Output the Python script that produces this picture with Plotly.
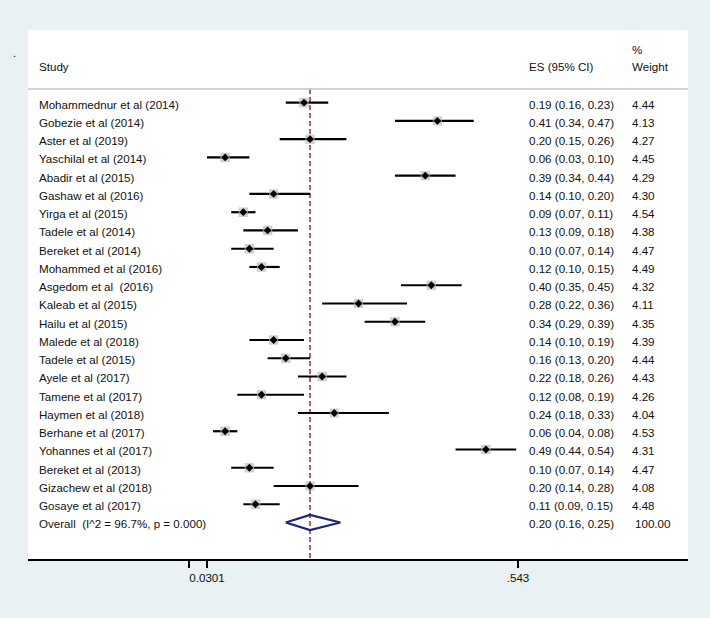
import plotly.graph_objects as go

studies = ["Mohammednur et al (2014)", "Gobezie et al (2014)", "Aster et al (2019)",
           "Yaschilal et al (2014)", "Abadir et al (2015)", "Gashaw et al (2016)",
           "Yirga et al (2015)", "Tadele et al (2014)", "Bereket et al (2014)",
           "Mohammed et al (2016)", "Asgedom et al  (2016)", "Kaleab et al (2015)",
           "Hailu et al (2015)", "Malede et al (2018)", "Tadele et al (2015)",
           "Ayele et al (2017)", "Tamene et al (2017)", "Haymen et al (2018)",
           "Berhane et al (2017)", "Yohannes et al (2017)", "Bereket et al (2013)",
           "Gizachew et al (2018)", "Gosaye et al (2017)"]
es = [0.19, 0.41, 0.20, 0.06, 0.39, 0.14, 0.09, 0.13, 0.10, 0.12, 0.40, 0.28, 0.34,
      0.14, 0.16, 0.22, 0.12, 0.24, 0.06, 0.49, 0.10, 0.20, 0.11]
lo = [0.16, 0.34, 0.15, 0.03, 0.34, 0.10, 0.07, 0.09, 0.07, 0.10, 0.35, 0.22, 0.29,
      0.10, 0.13, 0.18, 0.08, 0.18, 0.04, 0.44, 0.07, 0.14, 0.09]
hi = [0.23, 0.47, 0.26, 0.10, 0.44, 0.20, 0.11, 0.18, 0.14, 0.15, 0.45, 0.36, 0.39,
      0.19, 0.20, 0.26, 0.19, 0.33, 0.08, 0.54, 0.14, 0.28, 0.15]
weights = [4.44, 4.13, 4.27, 4.45, 4.29, 4.30, 4.54, 4.38, 4.47, 4.49, 4.32, 4.11, 4.35,
           4.39, 4.44, 4.43, 4.26, 4.04, 4.53, 4.31, 4.47, 4.08, 4.48]
overall_label = "Overall\u00a0\u00a0(I^2 = 96.7%, p = 0.000)"
overall_es, overall_lo, overall_hi, overall_w = 0.20, 0.16, 0.25, 100.00
tick_vals = [0, 0.0301, 0.543]
tick_text = ["", "0.0301", ".543"]

FONT = "Liberation Sans, Arial, Helvetica, sans-serif"
FS = 11.6
n = len(studies)
rows = list(range(n))
overall_row = n

fig = go.Figure()

# CI lines
cx, cy = [], []
for r, a, b in zip(rows, lo, hi):
    cx += [a, b, None]
    cy += [r, r, None]
fig.add_trace(go.Scatter(x=cx, y=cy, mode="lines", line=dict(color="black", width=2.2),
                         hoverinfo="skip", showlegend=False))
# weight boxes
fig.add_trace(go.Scatter(x=es, y=rows, mode="markers",
                         marker=dict(symbol="square", size=[4.5 * w ** 0.5 for w in weights],
                                     color="#bcbcbc", line=dict(width=0)),
                         hoverinfo="skip", showlegend=False))
# point estimates
fig.add_trace(go.Scatter(x=es, y=rows, mode="markers",
                         marker=dict(symbol="diamond", size=6, color="black", line=dict(width=0)),
                         showlegend=False))
# overall diamond
h = 0.42
fig.add_trace(go.Scatter(x=[overall_lo, overall_es, overall_hi, overall_es, overall_lo],
                         y=[overall_row, overall_row - h, overall_row, overall_row + h, overall_row],
                         mode="lines", line=dict(color="#1c2680", width=2.2),
                         hoverinfo="skip", showlegend=False))

# dashed overall line
fig.add_shape(type="line", xref="x", yref="y", x0=overall_es, x1=overall_es, y0=-0.75, y1=25,
              line=dict(color="#9b2d30", width=1.5, dash="5px,3px"), layer="below")
# header rule
fig.add_shape(type="line", xref="paper", yref="y", x0=0, x1=1, y0=-0.75, y1=-0.75,
              line=dict(color="#c4c4c4", width=1.5))

ann = []
def txt(x, y, s, xref="paper", yref="y"):
    ann.append(dict(x=x, y=y, xref=xref, yref=yref, text=s, showarrow=False,
                    xanchor="left", yanchor="middle",
                    font=dict(family=FONT, size=FS, color="#111")))

X_STUDY, X_ES, X_W = 0.0136, 0.756, 0.912
txt(X_STUDY, -1.96, "Study")
txt(X_ES, -1.96, "ES (95% CI)")
txt(X_W, -1.96, "Weight")
txt(X_W, -2.94, "%")
for r, s, e, a, b, w in zip(rows, studies, es, lo, hi, weights):
    txt(X_STUDY, r + 0.08, s)
    txt(X_ES, r + 0.08, f"{e:.2f} ({a:.2f}, {b:.2f})")
    txt(X_W, r + 0.08, f"{w:.2f}")
txt(X_STUDY, overall_row + 0.08, overall_label)
txt(X_ES, overall_row + 0.08, f"{overall_es:.2f} ({overall_lo:.2f}, {overall_hi:.2f})")
txt(X_W + 0.004, overall_row + 0.08, f"{overall_w:.2f}")
txt(-0.026, 0.958, ".", yref="paper")

fig.update_layout(
    width=710, height=618,
    margin=dict(l=28, r=22, t=30, b=59),
    paper_bgcolor="#e9f1f3", plot_bgcolor="white",
    annotations=ann,
    xaxis=dict(range=[-0.2651, 0.8233], tickvals=tick_vals, ticktext=tick_text,
               showgrid=False, zeroline=False, showline=True, linecolor="black",
               linewidth=1.5, ticks="outside", ticklen=7, tickwidth=1.5, tickcolor="black",
               tickfont=dict(family=FONT, size=FS, color="#111"), automargin=False,
               fixedrange=True),
    yaxis=dict(range=[25.0, -3.984], visible=False, showgrid=False, zeroline=False,
               fixedrange=True),
    font=dict(family=FONT, size=FS),
)

fig.write_html("out.html", config={"displayModeBar": False},
               post_script="document.body.style.margin='0';document.body.style.background='#e9f1f3';")
